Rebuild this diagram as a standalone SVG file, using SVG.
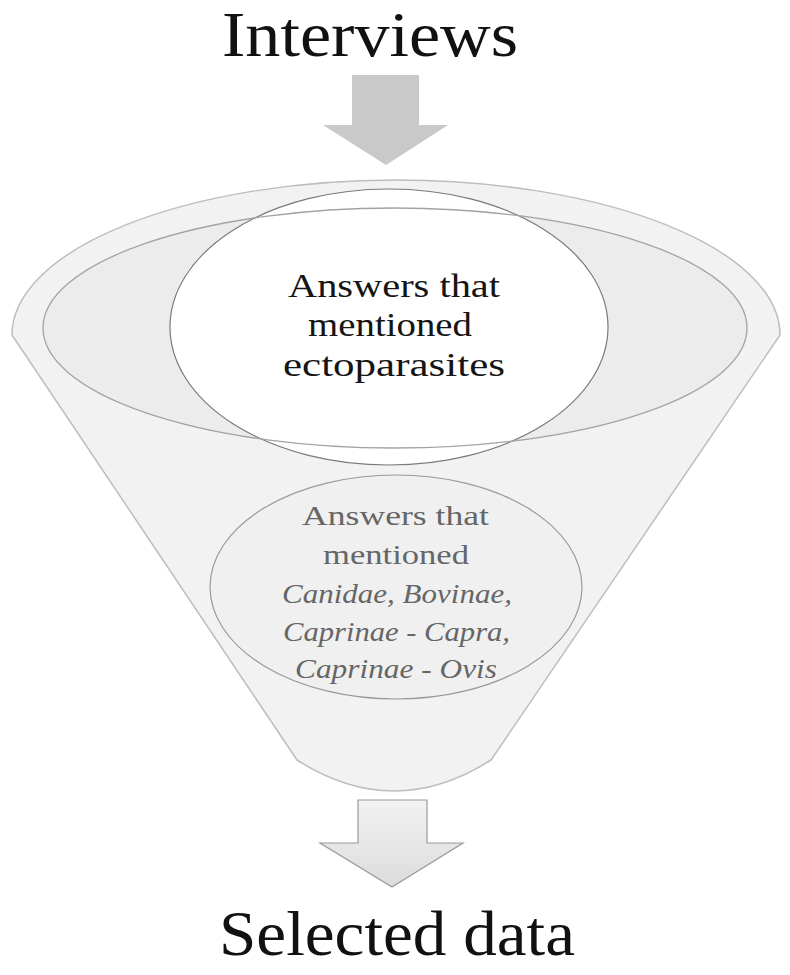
<svg xmlns="http://www.w3.org/2000/svg" width="790" height="975" viewBox="0 0 790 975">
<defs>
<linearGradient id="arrowGrad" x1="0" y1="0" x2="0" y2="1">
<stop offset="0" stop-color="#f2f2f2"/>
<stop offset="1" stop-color="#dcdcdc"/>
</linearGradient>
</defs>
<style>
.title{font-family:"Liberation Serif","Times New Roman",serif;font-size:64px;fill:#111;}
.up{font-family:"Liberation Serif","Times New Roman",serif;font-size:33px;fill:#151515;}
.low{font-family:"Liberation Serif","Times New Roman",serif;font-size:27px;fill:#666;}
.it{font-style:italic;}
</style>
<rect width="790" height="975" fill="#ffffff"/>
<g id="title-interviews">
<text class="title" x="222" y="56" textLength="296" lengthAdjust="spacingAndGlyphs">Interviews</text>
</g>
<g id="funnel">
<path d="M 12 335 A 384 155 0 0 1 780 335 L 491 760 Q 394 822 297 760 Z" fill="#f2f2f2" stroke="#bdbdbd" stroke-width="1.5" stroke-linejoin="round"/>
<ellipse cx="395" cy="328" rx="352" ry="120" fill="#ececec"/>
</g>
<g id="node-ectoparasites">
<ellipse cx="389" cy="327" rx="219" ry="138" fill="#ffffff" stroke="#7a7a7a" stroke-width="1.2"/>
<text class="up" x="288" y="297" textLength="212" lengthAdjust="spacingAndGlyphs">Answers that</text>
<text class="up" x="308" y="336" textLength="164" lengthAdjust="spacingAndGlyphs">mentioned</text>
<text class="up" x="283" y="376" textLength="222" lengthAdjust="spacingAndGlyphs">ectoparasites</text>
</g>
<g id="funnel-rim">
<ellipse cx="395" cy="328" rx="352" ry="120" fill="none" stroke="#a3a3a3" stroke-width="1.3"/>
</g>
<g id="node-species">
<ellipse cx="396" cy="587" rx="186" ry="112" fill="#f0f0f0" stroke="#9a9a9a" stroke-width="1.2"/>
<text class="low" x="302" y="525" textLength="187" lengthAdjust="spacingAndGlyphs">Answers that</text>
<text class="low" x="323" y="564" textLength="146" lengthAdjust="spacingAndGlyphs">mentioned</text>
<text class="low it" x="282" y="603" textLength="230" lengthAdjust="spacingAndGlyphs">Canidae, Bovinae,</text>
<text class="low it" x="283" y="641" textLength="227" lengthAdjust="spacingAndGlyphs">Caprinae - Capra,</text>
<text class="low it" x="295" y="678" textLength="202" lengthAdjust="spacingAndGlyphs">Caprinae - Ovis</text>
</g>
<g id="title-selected">
<text class="title" x="219" y="955" textLength="356" lengthAdjust="spacingAndGlyphs">Selected data</text>
</g>
<g id="connectors">
<polygon points="352,75 419,75 419,125 448,125 386,165 323,125 352,125" fill="#c9c9c9"/>
<polygon points="358,800 427,800 427,843 463,843 392,887 320,843 358,843" fill="url(#arrowGrad)" stroke="#9a9a9a" stroke-width="1.2"/>
</g>
</svg>
